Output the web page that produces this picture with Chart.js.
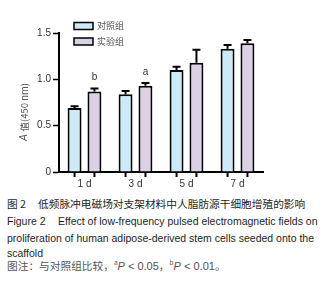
<!DOCTYPE html>
<html>
<head>
<meta charset="utf-8">
<script src="https://cdn.jsdelivr.net/npm/chart.js@4.4.1/dist/chart.umd.min.js"></script>
<style>
  body { margin: 0; background: #fff; width: 324px; height: 294px; overflow: hidden; position: relative; }
  #wrap { position: absolute; left: 0; top: 0; width: 324px; height: 190px; }
  .cap { position: absolute; white-space: nowrap; color: #1e1e1e; line-height: 1; }
  .zh { font-family: "Noto Sans CJK SC", sans-serif; font-size: 10.7px; }
  .en { font-family: "Liberation Sans", Arial, sans-serif; font-size: 10.5px; }
  .note { color: #555; }
  .note .en { font-size: 11px; }
</style>
</head>
<body>
<div id="wrap"><canvas id="figChart" width="324" height="190"></canvas></div>

<div class="cap zh" style="left:7px;top:199px;">图 2</div>
<div class="cap zh" style="left:38px;top:199px;">低频脉冲电磁场对支架材料中人脂肪源干细胞增殖的影响</div>
<div class="cap en" style="left:7px;top:216px;">Figure 2</div>
<div class="cap en" style="left:58px;top:216px;">Effect of low-frequency pulsed electromagnetic fields on</div>
<div class="cap en" style="left:7px;top:233px;">proliferation of human adipose-derived stem cells seeded onto the</div>
<div class="cap en" style="left:7px;top:248px;">scaffold</div>
<div class="cap zh note" style="left:7px;top:259px;">图注：与对照组比较，<sup style="font-size:6.5px">a</sup><i class="en">P</i><span class="en"> &lt; 0.05</span>，<sup style="font-size:6.5px">b</sup><i class="en">P</i><span class="en"> &lt; 0.01</span>。</div>

<script>
const categories = ["1 d", "3 d", "5 d", "7 d"];
const seriesNames = ["对照组", "实验组"];
const controlValues = [0.69, 0.84, 1.10, 1.33];
const controlErrors = [0.02, 0.035, 0.035, 0.04];
const experimentValues = [0.87, 0.93, 1.18, 1.39];
const experimentErrors = [0.03, 0.03, 0.14, 0.035];
const significance = ["b", "a", "", ""];
const yTicks = [0, 0.5, 1.0, 1.5];

const fillColors = ["#cdeaf8", "#dcd0e6"];
const errorSets = [controlErrors, experimentErrors];

// error bars, small x ticks under bars, significance letters, legend, y title
const extras = {
    id: "extras",
    afterDatasetsDraw(chart) {
        const ctx = chart.ctx;
        const y = chart.scales.y;
        const area = chart.chartArea;
        ctx.save();
        ctx.strokeStyle = "#000";
        ctx.lineWidth = 2;
        chart.data.datasets.forEach((ds, di) => {
            const meta = chart.getDatasetMeta(di);
            meta.data.forEach((bar, i) => {
                const top = y.getPixelForValue(ds.data[i]);
                const errTop = y.getPixelForValue(ds.data[i] + errorSets[di][i]);
                ctx.beginPath();
                ctx.moveTo(bar.x, top);
                ctx.lineTo(bar.x, errTop);
                ctx.moveTo(bar.x - 4, errTop);
                ctx.lineTo(bar.x + 4, errTop);
                ctx.stroke();
                // tick under bar
                ctx.beginPath();
                ctx.moveTo(bar.x, area.bottom);
                ctx.lineTo(bar.x, area.bottom + 5);
                ctx.stroke();
                if (di === 1 && significance[i]) {
                    ctx.fillStyle = "#333";
                    ctx.font = "10px 'Liberation Sans', Arial, sans-serif";
                    ctx.textAlign = "center";
                    ctx.textBaseline = "middle";
                    ctx.fillText(significance[i], bar.x, errTop - 11);
                }
            });
        });

        // legend
        ctx.lineWidth = 1.5;
        ctx.font = "9px 'Noto Sans CJK SC', sans-serif";
        ctx.textAlign = "left";
        ctx.textBaseline = "middle";
        seriesNames.forEach((name, k) => {
            const ly = 22.5 + k * 15.5;
            ctx.fillStyle = fillColors[k];
            ctx.fillRect(74, ly, 19, 7);
            ctx.strokeStyle = "#000";
            ctx.strokeRect(74, ly, 19, 7);
            ctx.fillStyle = "#555";
            ctx.fillText(name, 97, ly + 3.5);
        });

        // y title
        ctx.translate(24, 112);
        ctx.rotate(-Math.PI / 2);
        ctx.fillStyle = "#555";
        ctx.textBaseline = "middle";
        ctx.font = "italic 10px 'Liberation Sans', Arial, sans-serif";
        const aw = ctx.measureText("A ").width;
        ctx.font = "9.5px 'Noto Sans CJK SC', sans-serif";
        const rest = "值(450 nm)";
        const rw = ctx.measureText(rest).width;
        const start = -(aw + rw) / 2;
        ctx.font = "italic 10px 'Liberation Sans', Arial, sans-serif";
        ctx.fillText("A", start, 0);
        ctx.font = "9.5px 'Noto Sans CJK SC', sans-serif";
        ctx.fillText(rest, start + aw, 0);
        ctx.restore();
    }
};

new Chart(document.getElementById("figChart").getContext("2d"), {
    type: "bar",
    data: {
        labels: categories,
        datasets: [{
            label: seriesNames[0],
            data: controlValues,
            backgroundColor: fillColors[0],
            borderColor: "#000",
            borderWidth: 2
        }, {
            label: seriesNames[1],
            data: experimentValues,
            backgroundColor: fillColors[1],
            borderColor: "#000",
            borderWidth: 2
        }]
    },
    options: {
        responsive: false,
        animation: false,
        categoryPercentage: 0.78,
        barPercentage: 0.7,
        layout: { padding: { top: 33, right: 61, left: 0, bottom: 0 } },
        plugins: { legend: { display: false }, tooltip: { enabled: false } },
        scales: {
            x: {
                afterFit: s => { s.height = 18; },
                grid: { drawOnChartArea: false, drawTicks: false },
                border: { color: "#000", width: 2 },
                ticks: { color: "#333", padding: 6, font: { size: 10, family: "'Liberation Sans', Arial, sans-serif" } }
            },
            y: {
                min: 0,
                max: 1.5,
                afterFit: s => { s.width = 59; },
                afterBuildTicks: s => { s.ticks = yTicks.map(v => ({ value: v })); },
                grid: { drawOnChartArea: false, tickLength: 6, tickColor: "#000", tickWidth: 1.5 },
                border: { color: "#000", width: 2 },
                ticks: {
                    color: "#333",
                    padding: 2,
                    font: { size: 10, family: "'Liberation Sans', Arial, sans-serif" },
                    callback: v => v === 0 ? "0" : v.toFixed(1)
                }
            }
        }
    },
    plugins: [extras]
});
</script>
</body>
</html>
